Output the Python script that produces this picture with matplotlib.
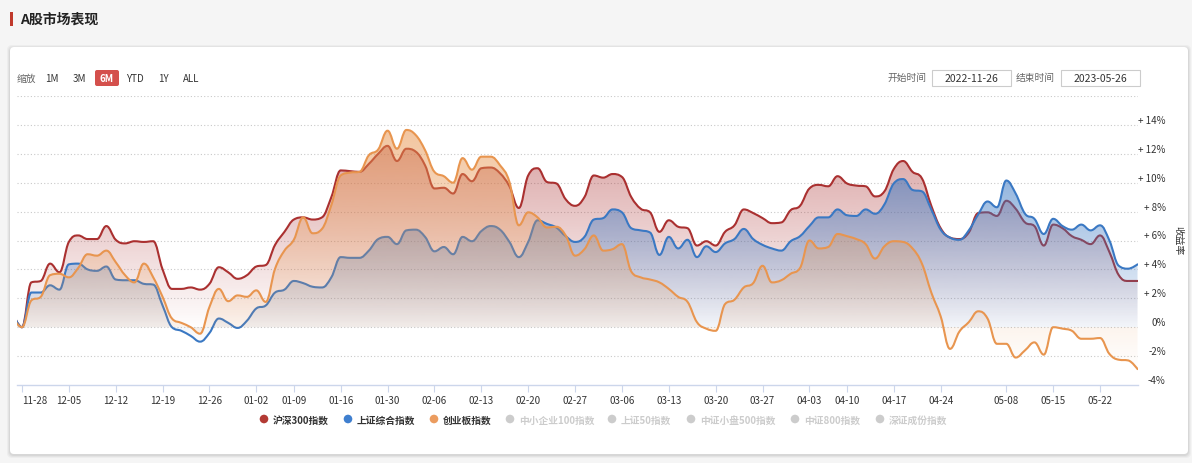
import numpy as np
import pandas as pd
import matplotlib
matplotlib.use("Agg")
import matplotlib.pyplot as plt
from matplotlib.path import Path
from matplotlib.patches import PathPatch, FancyBboxPatch, Rectangle, Circle
from matplotlib.colors import to_rgb

plt.rcParams['font.family'] = ['Noto Sans CJK SC', 'DejaVu Sans']

HOLIDAYS = ['2023-01-02', '2023-01-23', '2023-01-24', '2023-01-25', '2023-01-26',
            '2023-01-27', '2023-04-05', '2023-05-01', '2023-05-02', '2023-05-03']
dates = [d.strftime('%Y-%m-%d') for d in pd.bdate_range('2022-11-25', '2023-05-26')
         if d.strftime('%Y-%m-%d') not in HOLIDAYS]

hs300 = [1.0, 0.0, 3.1, 3.2, 4.4, 3.8, 5.9, 6.35, 6.1, 6.1,
         7.0, 6.05, 5.8, 5.95, 5.9, 5.95, 4.0, 2.65, 2.65, 2.75,
         2.6, 3.0, 4.15, 3.8, 3.35, 3.6, 4.2, 4.3, 5.7, 6.6,
         7.45, 7.6, 7.45, 7.6, 9.0, 10.85, 10.8, 10.75, 11.3, 12.0,
         12.55, 11.5, 12.35, 12.15, 11.2, 9.6, 9.65, 9.25, 10.6, 10.1,
         11.0, 11.05, 10.65, 9.75, 8.25, 10.5, 11.0, 10.05, 9.95, 8.85,
         8.4, 9.0, 10.5, 10.35, 10.6, 10.4, 9.0, 8.2, 7.95, 6.6,
         7.4, 6.95, 6.85, 5.65, 5.95, 5.65, 6.6, 7.05, 8.15, 7.9,
         7.55, 7.2, 7.25, 8.1, 8.4, 9.6, 9.85, 9.75, 10.45, 9.95,
         9.8, 9.75, 9.05, 9.4, 10.95, 11.5, 10.75, 10.3, 8.4, 6.85,
         6.2, 6.1, 6.55, 7.9, 7.95, 7.7, 8.75, 8.2, 7.25, 7.0,
         5.65, 7.1, 6.85, 6.3, 6.05, 5.75, 6.35, 5.2, 3.6, 3.2,
         3.2]

sh_comp = [1.0, 0.0, 2.4, 2.4, 2.9, 2.6, 4.35, 4.4, 4.0, 3.9,
           4.2, 3.3, 3.25, 3.25, 3.0, 2.95, 1.5, 0.0, -0.25, -0.6,
           -1.0, -0.4, 0.6, 0.3, -0.05, 0.45, 1.3, 1.5, 2.4, 2.6,
           3.2, 3.05, 2.8, 2.75, 3.45, 4.85, 4.8, 4.8, 5.3, 6.1,
           6.25, 5.75, 6.7, 6.75, 6.25, 5.25, 5.55, 5.05, 6.25, 5.95,
           6.65, 7.0, 6.75, 5.9, 4.85, 5.9, 7.4, 7.15, 6.9, 6.3,
           5.9, 6.25, 7.45, 7.55, 8.15, 7.95, 6.85, 6.7, 6.55, 5.0,
           6.25, 5.45, 6.05, 4.85, 5.6, 5.2, 5.8, 6.1, 6.8, 6.1,
           5.7, 5.45, 5.3, 5.95, 6.3, 7.0, 7.6, 7.6, 8.15, 7.75,
           7.7, 8.15, 7.85, 8.5, 9.95, 10.25, 9.5, 9.4, 8.15, 6.75,
           6.2, 6.05, 6.7, 7.8, 8.7, 8.3, 10.15, 9.25, 7.85, 7.5,
           6.45, 7.5, 7.0, 6.75, 7.1, 6.7, 7.05, 6.0, 4.25, 4.05,
           4.35]

chinext = [0.7, 0.0, 1.85, 2.1, 3.6, 3.7, 3.45, 4.1, 5.05, 4.95,
           5.3, 4.5, 3.6, 3.1, 4.4, 3.45, 2.1, 0.6, 0.3, 0.0,
           -0.45, 1.4, 2.65, 1.8, 2.2, 2.1, 2.55, 1.75, 4.05, 5.3,
           6.05, 7.6, 6.5, 6.8, 8.45, 10.5, 10.7, 10.75, 11.9, 12.3,
           13.6, 12.35, 13.65, 13.3, 12.25, 10.75, 10.45, 10.0, 11.7, 10.9,
           11.8, 11.8, 11.2, 10.05, 7.05, 7.95, 7.6, 6.9, 6.95, 6.35,
           4.95, 5.4, 6.35, 5.3, 5.4, 5.75, 3.85, 3.45, 3.3, 3.1,
           2.65, 2.1, 1.75, 0.35, -0.1, -0.25, 1.6, 1.9, 2.75, 3.05,
           4.25, 3.1, 3.25, 3.7, 4.1, 6.0, 5.45, 5.55, 6.45, 6.3,
           6.1, 5.75, 4.75, 5.6, 5.95, 5.9, 5.45, 4.4, 2.4, 0.75,
           -1.5, -0.3, 0.35, 1.1, 0.6, -1.15, -1.15, -2.1, -1.6, -1.05,
           -1.9, 0.0, -0.1, -0.25, -0.8, -0.8, -0.75, -1.85, -2.25, -2.3,
           -2.9]

tick_dates = ['2022-11-28', '2022-12-05', '2022-12-12', '2022-12-19', '2022-12-26',
              '2023-01-03', '2023-01-09', '2023-01-16', '2023-01-30', '2023-02-06',
              '2023-02-13', '2023-02-20', '2023-02-27', '2023-03-06', '2023-03-13',
              '2023-03-20', '2023-03-27', '2023-04-03', '2023-04-10', '2023-04-17',
              '2023-04-24', '2023-05-08', '2023-05-15', '2023-05-22']
tick_labels = ['11-28', '12-05', '12-12', '12-19', '12-26', '01-02', '01-09', '01-16',
               '01-30', '02-06', '02-13', '02-20', '02-27', '03-06', '03-13', '03-20',
               '03-27', '04-03', '04-10', '04-17', '04-24', '05-08', '05-15', '05-22']
y_ticks = [-4, -2, 0, 2, 4, 6, 8, 10, 12, 14]

series_names = ['沪深300指数', '上证综合指数', '创业板指数', '中小企业100指数',
                '上证50指数', '中证小盘500指数', '中证800指数', '深证成份指数']
series_on = [True, True, True, False, False, False, False, False]
line_colors = ['#aa3030', '#3a78c3', '#e8954f']
dot_colors = ['#b33a34', '#3f7fcf', '#eb9c5f']
fill_alpha = [0.44, 0.56, 0.55]


def spline_path(xs, ys, smoothing=1.5):
    # same control point rule as Highcharts' spline series
    denom = smoothing + 1
    n = len(xs)
    left = [(xs[i], ys[i]) for i in range(n)]
    right = [(xs[i], ys[i]) for i in range(n)]
    for i in range(1, n - 1):
        x, y = xs[i], ys[i]
        lx, ly, nx, ny = xs[i - 1], ys[i - 1], xs[i + 1], ys[i + 1]
        lcx = (smoothing * x + lx) / denom
        lcy = (smoothing * y + ly) / denom
        rcx = (smoothing * x + nx) / denom
        rcy = (smoothing * y + ny) / denom
        corr = ((rcy - lcy) * (rcx - x)) / (rcx - lcx) + y - rcy
        lcy += corr
        rcy += corr
        if lcy > ly and lcy > y:
            lcy = max(ly, y)
            rcy = 2 * y - lcy
        elif lcy < ly and lcy < y:
            lcy = min(ly, y)
            rcy = 2 * y - lcy
        if rcy > ny and rcy > y:
            rcy = max(ny, y)
            lcy = 2 * y - rcy
        elif rcy < ny and rcy < y:
            rcy = min(ny, y)
            lcy = 2 * y - rcy
        left[i] = (lcx, lcy)
        right[i] = (rcx, rcy)
    verts = [(xs[0], ys[0])]
    codes = [Path.MOVETO]
    for i in range(1, n):
        verts += [right[i - 1], left[i], (xs[i], ys[i])]
        codes += [Path.CURVE4] * 3
    return verts, codes


W, H = 1192, 464
fig = plt.figure(figsize=(W / 100, H / 100), dpi=100)
fig.patch.set_facecolor('#f5f5f5')

bg = fig.add_axes([0, 0, 1, 1])
bg.set_xlim(0, W)
bg.set_ylim(H, 0)
bg.axis('off')
bg.set_zorder(0)

# card with soft shadow
for k, a in [(3, 0.03), (2, 0.04), (1, 0.05)]:
    bg.add_patch(FancyBboxPatch((10 - k, 48 - k + 1), 1178 + 2 * k, 407 + 2 * k,
                                boxstyle="round,pad=0,rounding_size=5",
                                fc='black', ec='none', alpha=a))
bg.add_patch(FancyBboxPatch((10, 48), 1178, 407, boxstyle="round,pad=0,rounding_size=4",
                            fc='white', ec='none'))

# title
bg.add_patch(Rectangle((10, 13), 2.5, 14, fc='#c0392b', ec='none'))
bg.text(20, 20, 'A股市场表现', fontsize=10, fontweight='bold', color='#222222',
        va='center', ha='left')

# range selector
bg.text(17, 79, '缩放', fontsize=7, color='#666666', va='center', ha='left')
for lab, cx in zip(['1M', '3M', '6M', 'YTD', '1Y', 'ALL'], [52, 79, 107, 135, 163, 191]):
    if lab == '6M':
        bg.add_patch(FancyBboxPatch((95, 71), 24, 16, boxstyle="round,pad=0,rounding_size=2",
                                    fc='#d4504c', ec='none'))
        bg.text(cx, 79, lab, fontsize=7, color='white', fontweight='bold', va='center', ha='center')
    else:
        bg.text(cx, 79, lab, fontsize=7, color='#333333', va='center', ha='center')

# date inputs
bg.text(927, 78, '开始时间', fontsize=7, color='#666666', va='center', ha='right')
bg.add_patch(Rectangle((932, 71), 79, 16, fc='white', ec='#cccccc', lw=0.8))
bg.text(971.5, 79, '2022-11-26', fontsize=7.5, color='#333333', va='center', ha='center')
bg.text(1055, 78, '结束时间', fontsize=7, color='#666666', va='center', ha='right')
bg.add_patch(Rectangle((1061, 71), 79, 16, fc='white', ec='#cccccc', lw=0.8))
bg.text(1100.5, 79, '2023-05-26', fontsize=7.5, color='#333333', va='center', ha='center')

# y axis title
bg.text(1178, 241, '收益率', fontsize=7, color='#333333', rotation=270,
        va='center', ha='center')

# legend
dot_x = [264, 348, 434, 510, 612, 691, 795, 880]
for i, (name, on, dx) in enumerate(zip(series_names, series_on, dot_x)):
    c = dot_colors[i] if on else '#cccccc'
    tc = '#333333' if on else '#cccccc'
    bg.add_patch(Circle((dx, 420), 4.3, fc=c, ec='none'))
    bg.text(dx + 9, 420.5, name, fontsize=7, color=tc, fontweight='bold',
            va='center', ha='left')

# plot area
px_l, px_r, px_t, px_b = 17, 1138, 97, 386
ax = fig.add_axes([px_l / W, 1 - px_b / H, (px_r - px_l) / W, (px_b - px_t) / H])
ax.set_zorder(2)
ax.patch.set_alpha(0)

xs = np.arange(len(dates), dtype=float)
for gy in range(-2, 17, 2):
    ax.axhline(gy, color='#c9c9c9', lw=0.8, ls=(0, (1, 2)), zorder=0.5)

for k, vals in enumerate([hs300, sh_comp, chinext]):
    ys = np.array(vals, dtype=float)
    verts, codes = spline_path(xs, ys)
    line_path = Path(verts, codes)
    fverts = verts + [(xs[-1], 0), (xs[0], 0), (xs[0], ys[0])]
    fcodes = codes + [Path.LINETO, Path.LINETO, Path.CLOSEPOLY]
    fill_patch = PathPatch(Path(fverts, fcodes), transform=ax.transData)
    rgb = to_rgb(line_colors[k])
    grad = np.zeros((256, 1, 4))
    grad[:, 0, :3] = rgb
    grad[:, 0, 3] = np.linspace(0, fill_alpha[k], 256)
    ylo, yhi = min(ys.min(), 0) - 0.2, ys.max() + 0.3
    im = ax.imshow(grad, extent=[xs[0], xs[-1], ylo, yhi], origin='lower',
                   aspect='auto', interpolation='bilinear', zorder=1 + 2 * k)
    im.set_clip_path(fill_patch)
    ax.add_patch(PathPatch(line_path, fill=False, ec=line_colors[k], lw=1.5,
                           zorder=2 + 2 * k, capstyle='round', joinstyle='round'))

ax.set_xlim(0.47, 120.05)
ax.set_ylim(-4, 16)

tick_pos = [dates.index(d) for d in tick_dates]
ax.set_xticks(tick_pos)
ax.set_xticklabels(tick_labels)
ax.tick_params(axis='x', length=5, width=0.8, color='#ccd6eb', labelsize=7,
               labelcolor='#333333', pad=2)
ax.get_xticklabels()[0].set_horizontalalignment('left')

ax.yaxis.tick_right()
ax.set_yticks(y_ticks)
ax.set_yticklabels([('+ %d%%' % v) if v > 0 else ('%d%%' % v) for v in y_ticks])
ax.tick_params(axis='y', length=0, labelsize=7, labelcolor='#333333', pad=20)
for lab in ax.get_yticklabels():
    lab.set_horizontalalignment('right')
    lab.set_verticalalignment('bottom')

for s in ['top', 'left', 'right']:
    ax.spines[s].set_visible(False)
ax.spines['bottom'].set_color('#ccd6eb')
ax.spines['bottom'].set_linewidth(1)

fig.savefig('out.png', dpi=100, facecolor=fig.get_facecolor())
